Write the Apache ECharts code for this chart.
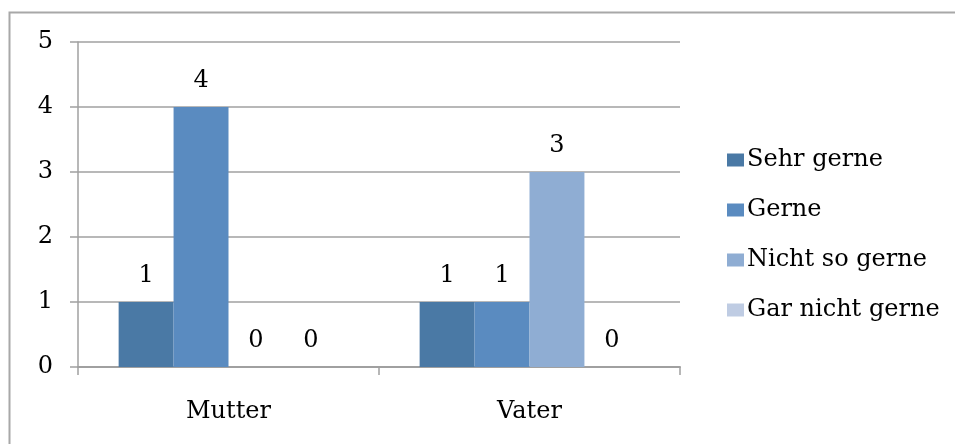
<!DOCTYPE html>
<html><head><meta charset="utf-8">
<script src="https://cdn.jsdelivr.net/npm/echarts@6/dist/echarts.min.js"></script>
<style>html,body{margin:0;padding:0;background:#fff}#c{width:955px;height:444px}</style>
</head><body><div id="c"></div>
<script>
const categories = ['Mutter', 'Vater'];
const seriesNames = ['Sehr gerne', 'Gerne', 'Nicht so gerne', 'Gar nicht gerne'];
const sehrGerne = [1, 1];
const gerne = [4, 1];
const nichtSoGerne = [0, 3];
const garNichtGerne = [0, 0];
const yTicks = [0, 1, 2, 3, 4, 5];
const colors = ['#4A79A5', '#5A8BC0', '#8FADD3', '#BFCCE3'];
const values = [sehrGerne, gerne, nichtSoGerne, garNichtGerne];
const font = 'DejaVu Serif';

const chart = echarts.init(document.getElementById('c'), null, {renderer: 'canvas'});
chart.setOption({
  animation: false,
  color: colors,
  graphic: [{type: 'rect', shape: {x: 9.5, y: 12.5, width: 2000, height: 2000},
    style: {fill: 'none', stroke: '#A8A8A8', lineWidth: 2}, z: -1}],
  grid: {left: 78, right: 275, top: 42, bottom: 77, containLabel: false},
  legend: {
    orient: 'vertical', left: 722, top: 143, itemGap: 26, itemWidth: 17, itemHeight: 13,
    icon: 'rect', data: seriesNames,
    textStyle: {fontFamily: font, fontSize: 24, color: '#000', padding: [0, 0, 0, -2]}
  },
  xAxis: {
    type: 'category', data: categories,
    axisLine: {lineStyle: {color: '#A0A0A0', width: 2}},
    axisTick: {show: true, length: 8, lineStyle: {color: '#A0A0A0', width: 1.5}},
    axisLabel: {fontFamily: font, fontSize: 24, color: '#000', margin: 33}
  },
  yAxis: {
    type: 'value', min: yTicks[0], max: yTicks[yTicks.length - 1], interval: 1,
    axisLine: {show: true, lineStyle: {color: '#A0A0A0', width: 1.5}},
    axisTick: {show: true, length: 8, lineStyle: {color: '#A0A0A0', width: 1.5}},
    splitLine: {lineStyle: {color: '#A0A0A0', width: 1.5}},
    axisLabel: {fontFamily: font, fontSize: 24, color: '#000', margin: 25}
  },
  series: seriesNames.map((n, i) => ({
    name: n, type: 'bar', data: values[i],
    barGap: '0%', barCategoryGap: '27%',
    label: {show: true, position: 'top', distance: 14, fontFamily: font, fontSize: 24, color: '#000'}
  }))
});
</script></body></html>
